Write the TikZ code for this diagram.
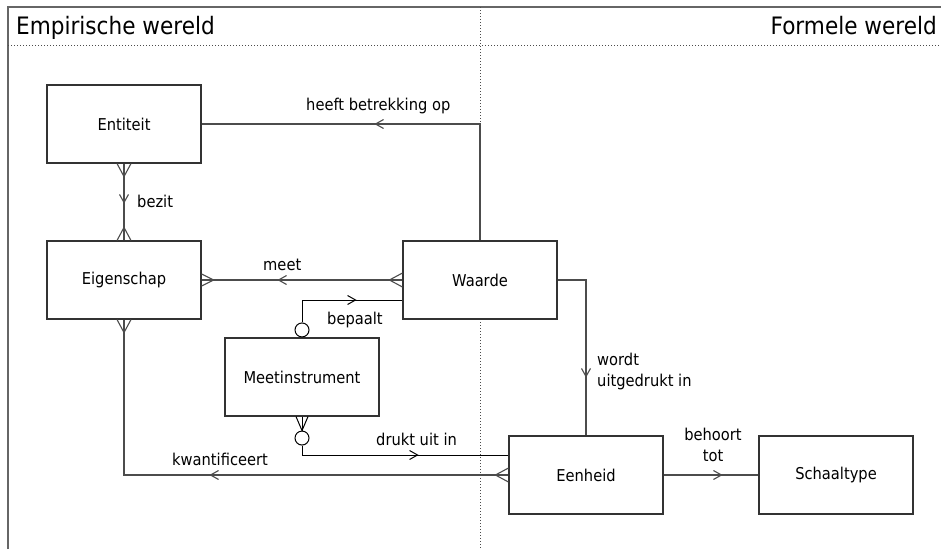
\documentclass[tikz,border=0pt]{standalone}
\usepackage{fontspec}
\setmainfont{DejaVu Sans}[FakeStretch=0.9]
\usetikzlibrary{arrows.meta,decorations.markings}

\begin{document}
\begin{tikzpicture}[x=1pt,y=-1pt,
  box/.style={draw=black!80,fill=white,line width=1.1pt,minimum width=154pt,
    minimum height=78pt,inner sep=0pt,font=\fontsize{16.3}{19}\selectfont},
  conn/.style={color=black!70,line width=1.1pt},
  blk/.style={color=black,line width=1pt},
  lbl/.style={inner sep=0pt,font=\fontsize{16.3}{20.5}\selectfont},
  ring/.style={circle,draw=black,fill=white,line width=1pt,minimum size=14pt,inner sep=0pt},
  chev/.tip={Straight Barb[length=8pt,width=9pt]},
  midarrow/.style={postaction={decorate,decoration={markings,
    mark=at position #1 with {\arrow{chev}}}}},
  frame/.style={color=black!60,line width=1.5pt},
  divider/.style={color=black!70,line width=1pt,dash pattern=on 1pt off 2pt}]

\useasboundingbox (0,0) rectangle (941,549);

% outer frame and the two dotted dividers
\draw[frame] (8,549) -- (8,7) -- (941,7);
\draw[divider] (8,45) -- (941,45);
\draw[divider] (480,7) -- (480,549);

% world titles
\node[anchor=base west,inner sep=0pt,font=\fontsize{24}{28}\selectfont] (tl) at (16,34) {Empirische wereld};
\node[anchor=base east,inner sep=0pt,font=\fontsize{24}{28}\selectfont] (tr) at (937,34) {Formele wereld};

% entities
\node[box] (ent) at (124,124) {Entiteit};
\node[box] (eig) at (124,280) {Eigenschap};
\node[box] (waa) at (480,280) {Waarde};
\node[box] (mee) at (302,377) {Meetinstrument};
\node[box] (een) at (586,475) {Eenheid};
\node[box] (sch) at (836,475) {Schaaltype};

% optional-end rings on Meetinstrument
\node[ring,anchor=south] (c1) at (mee.north) {};
\node[ring,anchor=north] (c2) at ([yshift=-14pt]mee.south) {};

% relationships
\draw[conn,midarrow=222pt] (waa.north) |- (ent.east);
\draw[conn,midarrow=40pt] (ent.south) -- (eig.north);
\draw[conn,midarrow=125pt] (waa.west) -- (eig.east);
\draw[blk,midarrow=77pt] (c1.north) |- ([yshift=-20pt]waa.west);
\draw[blk] (mee.south) -- (c2.north);
\draw[blk,midarrow=126pt] (c2.south) |- ([yshift=20pt]een.west);
\draw[conn,midarrow=299pt] (een.west) -| (eig.south);
\draw[conn,midarrow=126pt] (waa.east) -| (een.north);
\draw[conn,midarrow=59pt] (een.east) -- (sch.west);

% crow's feet (many-side)
\draw[conn] ([xshift=-7pt]ent.south) -- ([yshift=-13pt]ent.south) -- ([xshift=7pt]ent.south);
\draw[conn] ([xshift=-7pt]eig.north) -- ([yshift=13pt]eig.north) -- ([xshift=7pt]eig.north);
\draw[conn] ([yshift=6pt]eig.east) -- ([xshift=12pt]eig.east) -- ([yshift=-6pt]eig.east);
\draw[conn] ([yshift=7pt]waa.west) -- ([xshift=-13pt]waa.west) -- ([yshift=-7pt]waa.west);
\draw[conn] ([xshift=-7pt]eig.south) -- ([yshift=-13pt]eig.south) -- ([xshift=7pt]eig.south);
\draw[conn] ([yshift=7pt]een.west) -- ([xshift=-13pt]een.west) -- ([yshift=-7pt]een.west);
\draw[blk] ([xshift=-6pt]mee.south) -- (c2.north) -- ([xshift=6pt]mee.south);

% relationship labels
\node[lbl,anchor=base west] (l1) at (306,110) {heeft betrekking op};
\node[lbl,anchor=base west] (l2) at (137,207) {bezit};
\node[lbl,anchor=base west] (l3) at (263,270) {meet};
\node[lbl,anchor=base west] (l4) at (327,324) {bepaalt};
\node[lbl,anchor=base west] (l5) at (376,445) {drukt uit in};
\node[lbl,anchor=base west] (l6) at (172,465) {kwantificeert};
\node[lbl,anchor=base west,align=left] (l7) at (597,386) {wordt\\uitgedrukt in};
\node[lbl,anchor=base,align=center] (l8) at (713,461) {behoort\\tot};

\end{tikzpicture}
\end{document}
